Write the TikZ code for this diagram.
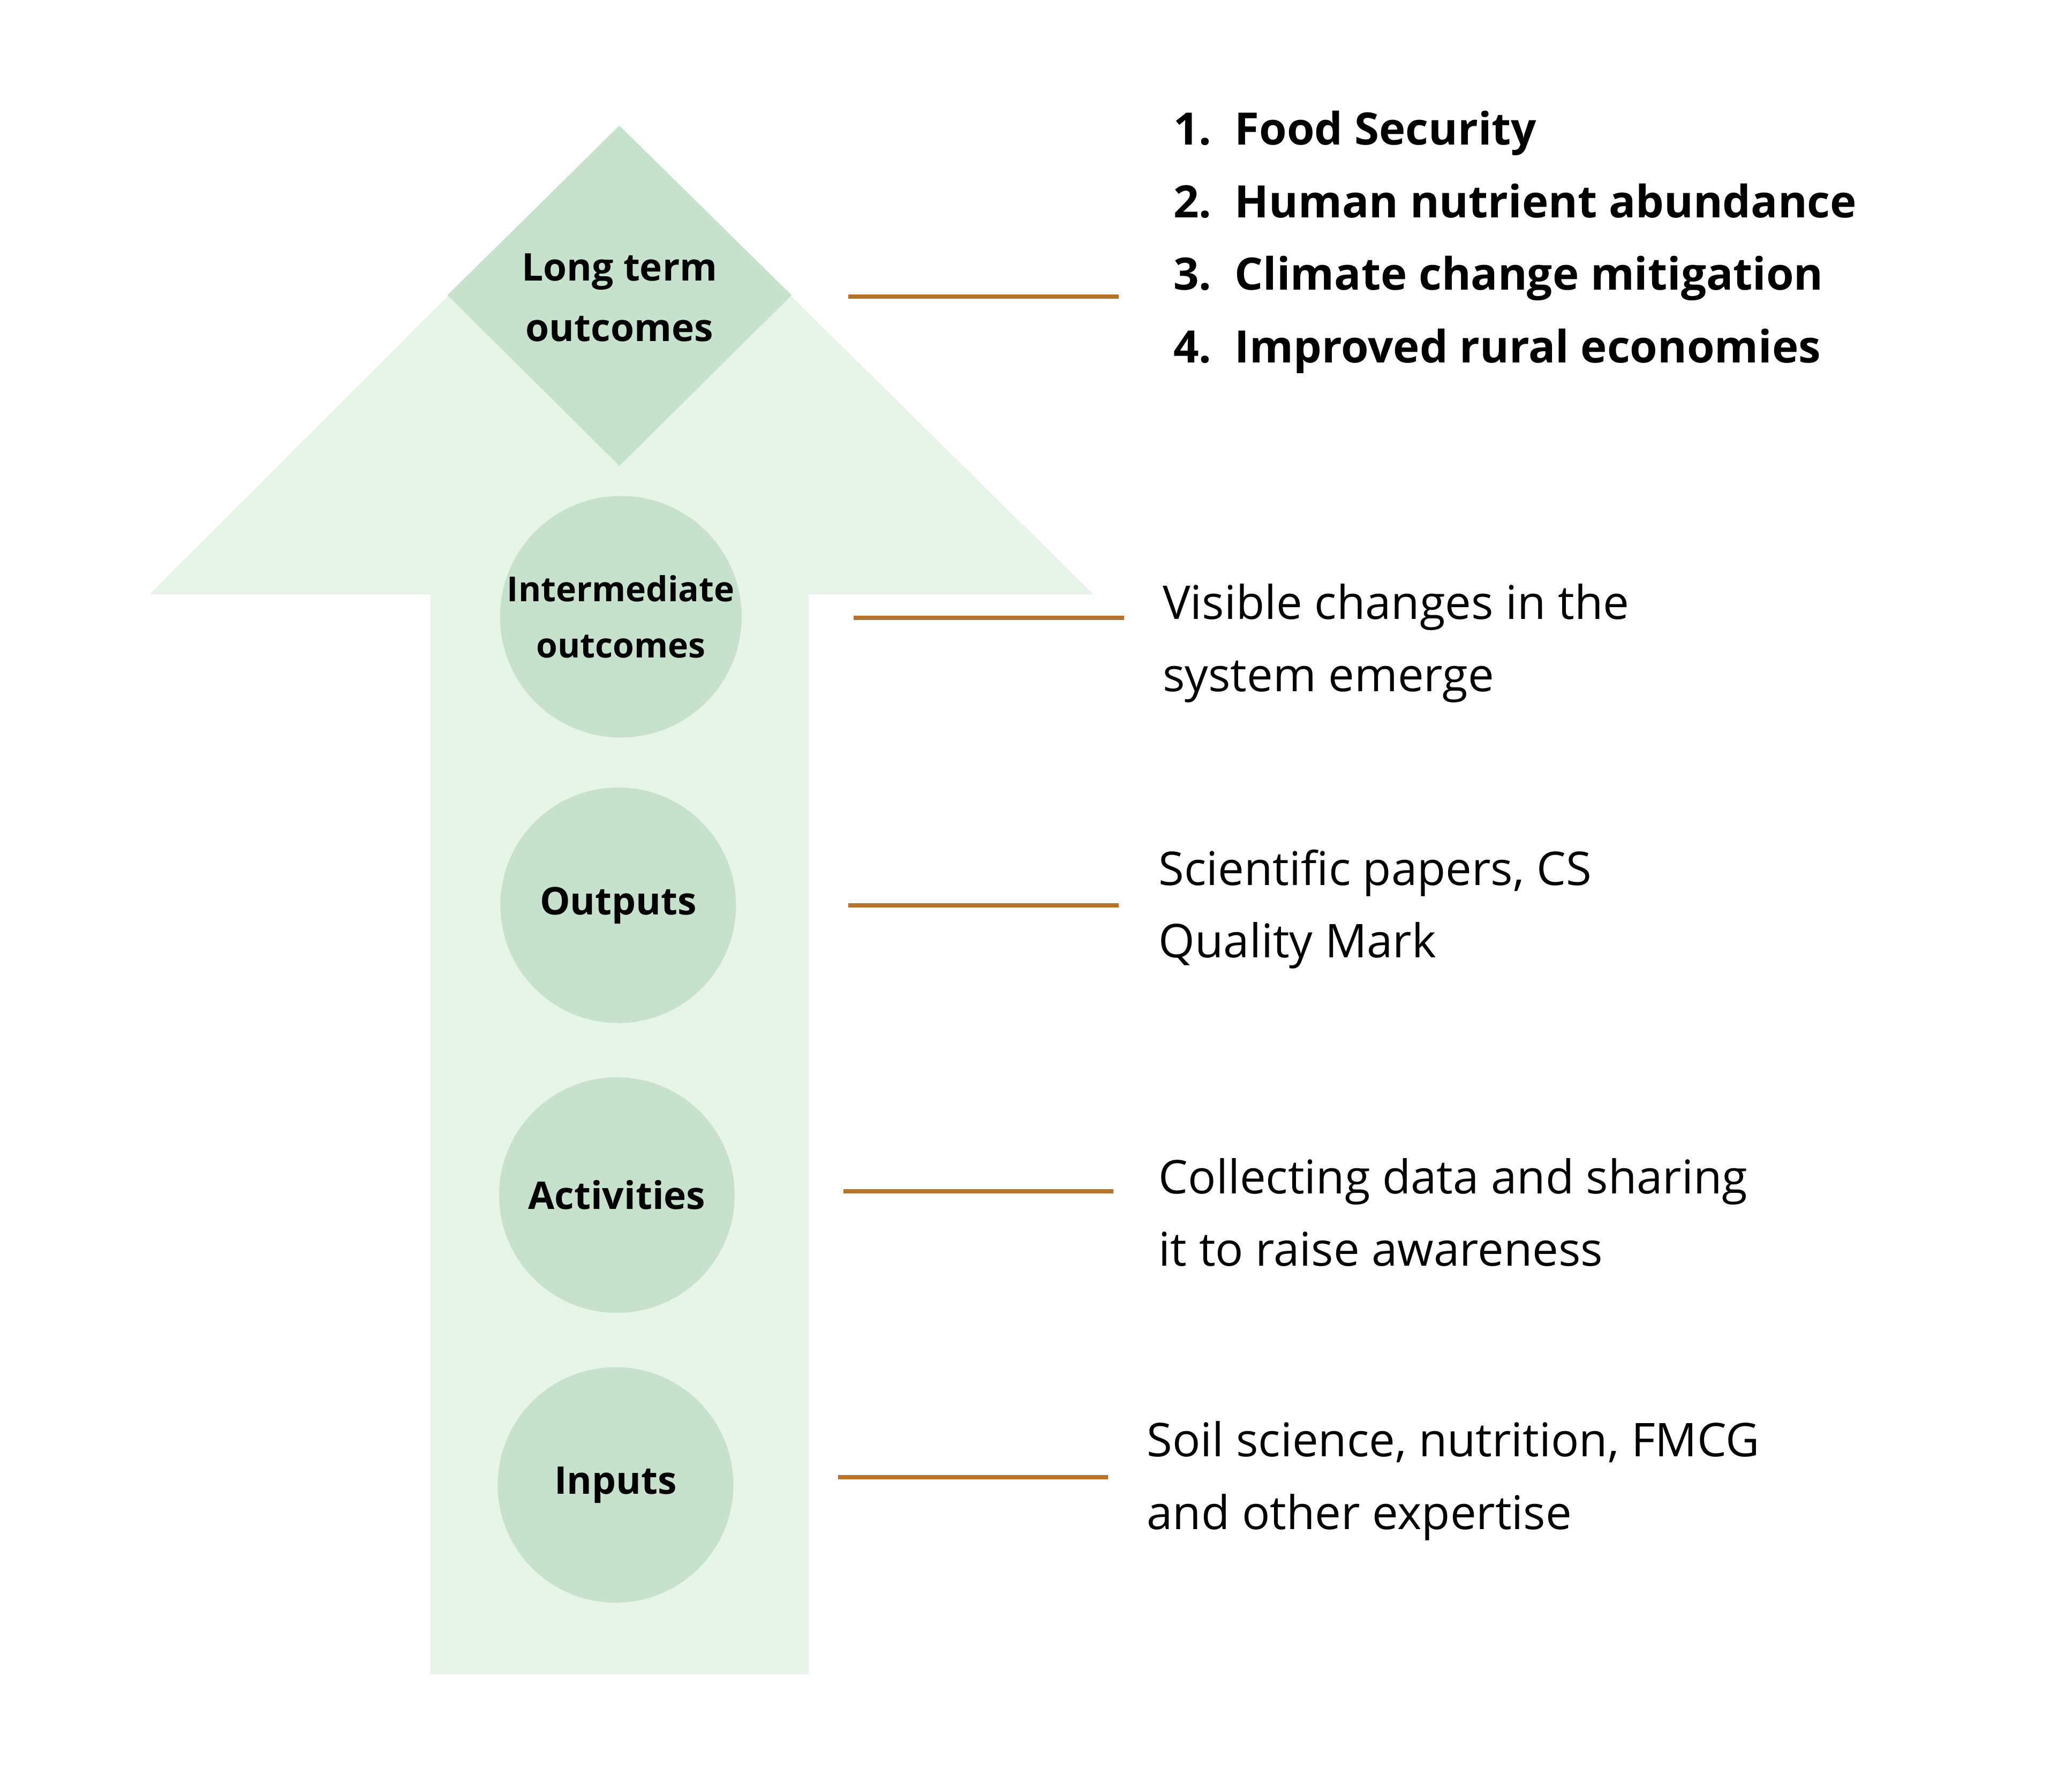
\documentclass[tikz,border=0pt]{standalone}
\usepackage{fontspec}
\setmainfont{Open Sans}
\definecolor{arrowgreen}{HTML}{E7F4E8}
\definecolor{stagegreen}{HTML}{C6E2CC}
\definecolor{linkbrown}{HTML}{B87328}
\tikzset{
  stage/.style={circle, fill=stagegreen, minimum size=17.8mm, inner sep=0pt,
    align=center, font=\fontsize{8.2}{12}\selectfont\bfseries},
  note/.style={anchor=west, align=left, font=\fontsize{10}{15.6}\selectfont},
  link/.style={draw=linkbrown, line width=0.9pt}
}
\begin{document}
\begin{tikzpicture}[x=0.1mm, y=-0.1mm]
            \useasboundingbox (0,0) rectangle (1560,1354);
            % big arrow
            \fill[arrowgreen] (325,1265) -- (325,449) -- (113,449) -- (467,95)
              -- (826,449) -- (611,449) -- (611,1265) -- cycle;
            % long term outcomes
            \fill[stagegreen] (468,95) -- (598,223) -- (468,352) -- (338,223) -- cycle;
            \node[align=center, font=\fontsize{8.2}{13}\selectfont\bfseries] (long) at (468,225) {Long term\\outcomes};
            % stages
            \node[stage, font=\fontsize{7.4}{12}\selectfont\bfseries] (inter) at (469,466) {Intermediate\\outcomes};
            \node[stage] (outputs) at (467,684) {Outputs};
            \node[stage] (acts) at (466,903) {Activities};
            \node[stage] (inputs) at (465,1122) {Inputs};
            % descriptions
            \node[note, font=\fontsize{9.6}{15.6}\selectfont\bfseries] (goals) at (874,183)
              {1.~~Food Security\\2.~~Human nutrient abundance\\3.~~Climate change mitigation\\4.~~Improved rural economies};
            \node[note] (visible) at (866,486) {Visible changes in the\\system emerge};
            \node[note] (papers) at (863,687) {Scientific papers, CS\\Quality Mark};
            \node[note] (collect) at (863,916) {Collecting data and sharing\\it to raise awareness};
            \node[note] (soil) at (854,1119) {Soil science, nutrition, FMCG\\and other expertise};
            % links
            \foreach \y/\a/\b [count=\i] in {224/641/845, 467/645/849, 684/641/845, 900/637/841, 1116/633/837}{
              \coordinate (l\i) at (\a,\y);
              \coordinate (r\i) at (\b,\y);
              \draw[link] (l\i) -- (r\i);
            }
\end{tikzpicture}
\end{document}
